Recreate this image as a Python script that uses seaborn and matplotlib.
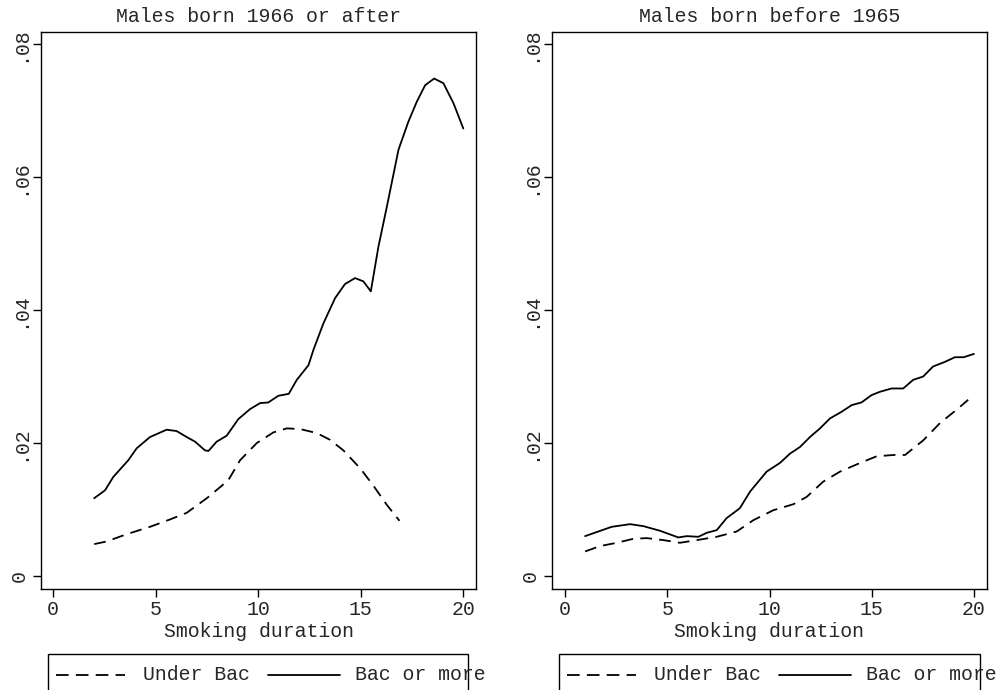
import matplotlib
matplotlib.use("Agg")
import matplotlib.pyplot as plt
import seaborn as sns
from matplotlib.lines import Line2D
from matplotlib.patches import Rectangle

# Males born 1966 or after
young_bac_x = [2.01, 2.54, 2.94, 3.67, 4.08, 4.73, 5.54, 6.03, 6.52, 6.93, 7.41, 7.58,
               7.98, 8.47, 9.04, 9.61, 10.1, 10.5, 10.99, 11.5, 11.89, 12.46, 12.7,
               13.19, 13.76, 14.24, 14.73, 15.14, 15.5, 15.87, 16.28, 16.85, 17.33,
               17.74, 18.15, 18.59, 19.04, 19.53, 20.01]
young_bac_y = [0.0117, 0.0129, 0.0149, 0.0174, 0.0192, 0.0209, 0.0220, 0.0218, 0.0209,
               0.0202, 0.0189, 0.0188, 0.0202, 0.0211, 0.0236, 0.0251, 0.0260, 0.0261,
               0.0271, 0.0274, 0.0295, 0.0317, 0.0340, 0.0380, 0.0418, 0.0439, 0.0448,
               0.0443, 0.0428, 0.0495, 0.0555, 0.0641, 0.0683, 0.0713, 0.0738, 0.0748,
               0.0741, 0.0711, 0.0673]
young_under_x = [2.01, 2.62, 3.6, 4.73, 5.7, 6.52, 7.5, 8.55, 9.12, 9.94, 10.75, 11.4,
                 12.05, 12.86, 13.5, 14.16, 14.98, 15.6, 16.28, 16.9]
young_under_y = [0.0048, 0.0052, 0.0063, 0.0074, 0.0085, 0.0095, 0.0117, 0.0144, 0.0174,
                 0.0200, 0.0216, 0.0222, 0.0221, 0.0215, 0.0205, 0.0189, 0.0162, 0.0137,
                 0.0107, 0.0083]

# Males born before 1965
old_bac_x = [0.98, 1.63, 2.28, 3.18, 3.83, 4.65, 5.54, 5.95, 6.52, 6.93, 7.42, 7.9, 8.55,
             9.05, 9.86, 10.51, 11.0, 11.49, 11.98, 12.47, 12.96, 13.53, 14.02, 14.5,
             14.99, 15.4, 15.97, 16.54, 17.03, 17.52, 18.0, 18.58, 19.07, 19.5, 20.0]
old_bac_y = [0.0060, 0.0067, 0.0074, 0.0078, 0.0075, 0.0068, 0.0058, 0.0060, 0.0059,
             0.0065, 0.0069, 0.0087, 0.0102, 0.0127, 0.0157, 0.0170, 0.0184, 0.0194,
             0.0209, 0.0222, 0.0237, 0.0247, 0.0257, 0.0261, 0.0272, 0.0277, 0.0282,
             0.0282, 0.0295, 0.0300, 0.0315, 0.0322, 0.0329, 0.0329, 0.0334]
old_under_x = [0.98, 1.71, 2.53, 3.34, 4.0, 4.81, 5.62, 6.44, 7.42, 8.4, 9.21, 10.19,
               11.17, 11.82, 12.63, 13.45, 14.43, 15.24, 16.06, 16.63, 17.52, 18.34,
               19.15, 19.72]
old_under_y = [0.0037, 0.0045, 0.0050, 0.0056, 0.0057, 0.0054, 0.0050, 0.0054, 0.0059,
               0.0067, 0.0084, 0.0099, 0.0108, 0.0119, 0.0142, 0.0157, 0.0170, 0.0180,
               0.0182, 0.0182, 0.0204, 0.0230, 0.0250, 0.0265]

titles = ["Males born 1966 or after", "Males born before 1965"]
x_ticks = [0, 5, 10, 15, 20]
y_ticks = [0, 0.02, 0.04, 0.06, 0.08]
y_tick_labels = ["0", ".02", ".04", ".06", ".08"]
legend_labels = ["Under Bac", "Bac or more"]

sns.set_style("white")
plt.rcParams["font.family"] = ["Liberation Mono", "DejaVu Sans Mono"]
FS = 14.3
LW = 1.3
DASH = (6.5, 4)

fig = plt.figure(figsize=(10.01, 6.90), dpi=100)
W, H = 1001, 690

panels = [
    (41, (-0.585, 20.63), young_under_x, young_under_y, young_bac_x, young_bac_y),
    (552, (-0.64, 20.64), old_under_x, old_under_y, old_bac_x, old_bac_y),
]

for i, (left_px, xlim, ux, uy, bx, by) in enumerate(panels):
    ax = fig.add_axes([left_px / W, (H - 589) / H, 435 / W, 557 / H])
    sns.lineplot(x=ux, y=uy, ax=ax, color="black", linewidth=LW)
    ax.lines[-1].set_dashes(DASH)
    sns.lineplot(x=bx, y=by, ax=ax, color="black", linewidth=LW)
    ax.set_xlim(*xlim)
    ax.set_ylim(-0.00195, 0.0818)
    ax.set_xticks(x_ticks)
    ax.set_xticklabels([str(t) for t in x_ticks], fontsize=FS)
    ax.set_yticks(y_ticks)
    ax.set_yticklabels(y_tick_labels, fontsize=FS, rotation=90,
                       rotation_mode="anchor", ha="center", va="baseline")
    ax.tick_params(bottom=True, left=True, direction="out", length=5.8,
                   width=1, color="black")
    ax.tick_params(axis="x", pad=2)
    ax.tick_params(axis="y", pad=5.8)
    ax.set_xlabel("Smoking duration", fontsize=FS, labelpad=2.5)
    ax.set_title(titles[i], fontsize=FS, pad=7)
    for sp in ax.spines.values():
        sp.set_color("black")
        sp.set_linewidth(1)

    # legend box below each panel, partly cut off by the figure edge
    box_l = 48 if i == 0 else 559
    box_r = 468 if i == 0 else 980
    fig.add_artist(Rectangle((box_l / W, -0.05), (box_r - box_l) / W,
                             0.05 + (H - 654) / H, transform=fig.transFigure,
                             facecolor="none", edgecolor="black", linewidth=1))
    ly = (H - 675) / H
    off = 0 if i == 0 else 511
    dash_line = Line2D([(56 + off) / W, (125 + off) / W], [ly, ly],
                       transform=fig.transFigure, color="black", linewidth=LW)
    dash_line.set_dashes((7, 4))
    fig.add_artist(dash_line)
    fig.text((143 + off) / W, ly, legend_labels[0], fontsize=FS, va="center")
    fig.add_artist(Line2D([(268 + off) / W, (340 + off) / W], [ly, ly],
                          transform=fig.transFigure, color="black", linewidth=LW))
    fig.text((355 + off) / W, ly, legend_labels[1], fontsize=FS, va="center")

fig.savefig("out.png", dpi=100)
